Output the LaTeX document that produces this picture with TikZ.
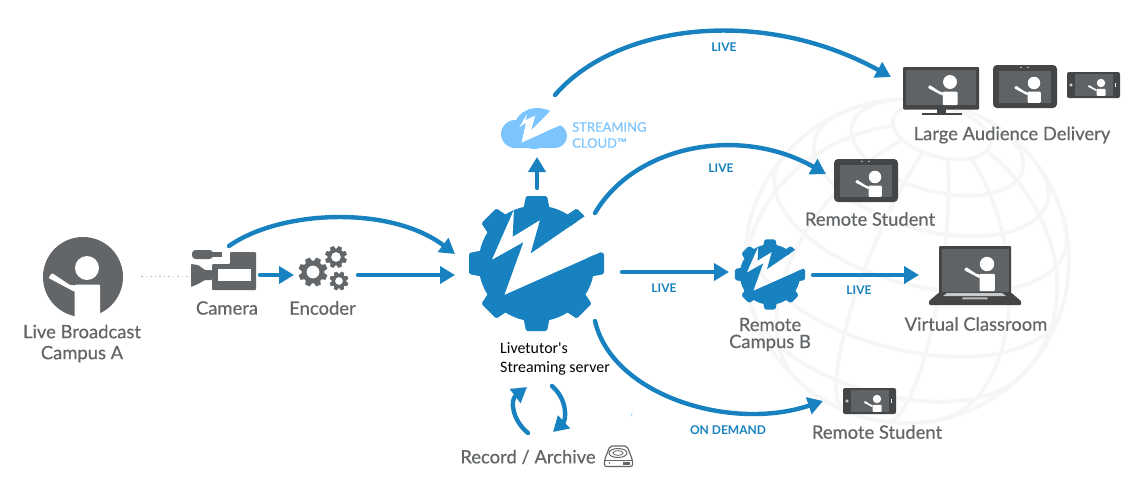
\documentclass[tikz,border=0pt]{standalone}
\usepackage{fontspec}
\setmainfont{Lato}
\newfontfamily\labf[FakeBold=0.45]{Lato}
\newfontfamily\carlitof{Carlito}
\usetikzlibrary{arrows.meta}
\definecolor{bl}{HTML}{1782BF}
\definecolor{lb}{HTML}{7CC5FF}
\definecolor{gr}{HTML}{636669}
\definecolor{dk}{HTML}{434547}
\definecolor{scr}{HTML}{5F6366}
\definecolor{glb}{HTML}{F6F6F6}
\tikzset{
 flow/.style={draw=bl,line width=4.4pt,line cap=round,-{Triangle[length=15pt,width=17pt]}},
 lab/.style={text=gr,font=\labf\fontsize{18.4}{21}\selectfont,align=center,inner sep=0pt},
 flowlab/.style={text=bl,font=\bfseries\fontsize{12}{14}\selectfont,inner sep=0pt},
 cloudlab/.style={text=lb,font=\labf\fontsize{13}{16}\selectfont,inner sep=0pt,anchor=west},
 srv/.style={text=black,font=\carlitof\fontsize{15.9}{18}\selectfont,inner sep=0pt,anchor=west},
 globeline/.style={draw=glb,line width=3.8pt},
 declare function={
  GX(\p,\l)=907+162*((cos(\p)*sin(\l))*0.966+(sin(\p)*0.866-cos(\p)*cos(\l)*0.5)*0.259);
  GY(\p,\l)=261-162*(-(cos(\p)*sin(\l))*0.259+(sin(\p)*0.866-cos(\p)*cos(\l)*0.5)*0.966);
 }
}
% gear logo: x y scale
\newcommand\logogear[3]{%
 \begin{scope}[shift={(#1,#2)},scale=#3]
  \begin{scope}[even odd rule]
  \clip (-80,-80) rectangle (80,80)
   (-22.5,-54.2)--(-44.8,-3.5)--(-13.2,-21.2)--(-32.2,31.5)--(68,-13)--(80,-48)--(48.5,-47.5)--(-5.8,-10.2)--(3.5,-43.5)--(-23.8,-26.8)--cycle;
  \begin{scope}[nonzero rule]
  \fill[bl] (0,0) circle (58);
  \foreach \a in {0,45,...,315}
   \fill[bl,rotate=\a,rounded corners=1.5pt] (50,-14)--(67.5,-10.5)--(67.5,10.5)--(50,14)--cycle;
  \end{scope}
  \end{scope}
 \end{scope}}
% cog: x y R hole
\newcommand\cogicon[4]{%
 \begin{scope}[shift={(#1,#2)},scale=#3]
  \fill[gr,even odd rule] (0,0) circle (0.78) (0,0) circle (#4);
  \foreach \a in {0,45,...,315}
   \fill[gr,rotate=\a+22.5] (0.7,-0.24)--(1,-0.17)--(1,0.17)--(0.7,0.24)--cycle;
 \end{scope}}
% person: head x y scale torso-length
\newcommand\persn[4]{%
 \begin{scope}[shift={(#1,#2)},scale=#3]
  \fill[white] (0,0) circle (12);
  \fill[white,rounded corners=1pt] (-12.5,#4)--(-12.5,16.5)--(13,16.5)--(13,#4)--cycle;
  \fill[white,rounded corners=1pt] (-38.5,10)--(-35,5)--(-17,17)--(-12,17)--(-12,24)--cycle;
 \end{scope}}
\newcommand\tabletdev[2]{%
 \begin{scope}[shift={(#1,#2)}]
  \fill[dk,rounded corners=4pt] (0,0) rectangle (64,43);
  \fill[scr] (6,6) rectangle (58,38);
  \fill[white] (28,2.4) circle (0.7) (35,2.4) circle (0.7);
  \persn{41}{18}{0.52}{38}
 \end{scope}}
\newcommand\phonedev[2]{%
 \begin{scope}[shift={(#1,#2)}]
  \fill[dk,rounded corners=2pt] (0,0) rectangle (53,26);
  \fill[scr] (8,2) rectangle (46,24);
  \draw[white,line width=0.5pt] (4,13) circle (1.3);
  \fill[white] (47.8,11) rectangle (49,15);
  \persn{34}{11}{0.35}{37}
 \end{scope}}
\begin{document}
\begin{tikzpicture}[x=1pt,y=-1pt]
\path[use as bounding box,fill=white] (0,0) rectangle (1140,485);
% globe
\draw[globeline] (907,261) circle (162);
\foreach \ph/\lm in {72/180,57/152,42/121,22/103,-3/88,-27/73}{
  \draw[globeline] plot[smooth,samples=50,domain=-\lm:\lm,variable=\t] ({GX(\ph,\t)},{GY(\ph,\t)});
}
\foreach \lam/\st in {-75/-24,-45/-51,-15/-59,15/-59,45/-51,75/-24}{
  \draw[globeline] plot[smooth,samples=30,domain=\st:72,variable=\t] ({GX(\t,\lam)},{GY(\t,\lam)});
}
% person at campus A
\fill[gr] (83,277) circle (40);
\persn{87}{268}{1}{50}
\draw[gr!45!white,line width=1.5pt,dash pattern=on 1.5pt off 3pt] (141,276.5)--(191,276.5);
% camera
\fill[gr,rounded corners=1pt] (212,264)--(230,264)--(230,252)--(256,252)--(256,290)--(212,290)--cycle;
\fill[white] (218,269) rectangle (251,281);
\fill[gr,rounded corners=0.8pt] (191,264)--(198,265)--(205,270)--(212,270)--(212,280)--(205,280)--(198,284)--(191,287)--cycle;
\fill[gr,rounded corners=3.5pt] (192,250) rectangle (213,259);
\fill[gr] (210,252) rectangle (222,256.5);
% encoder cogs
\cogicon{313}{272}{14.5}{0.45}
\cogicon{336}{257}{11}{0.45}
\cogicon{339}{281}{9.5}{0.42}
% server gears
\logogear{536.5}{263.5}{1}
\logogear{770}{274.5}{0.52}
% cloud
\begin{scope}[even odd rule]
 \clip (495,100) rectangle (575,155)
  (527.3,113.3)--(518.3,128.3)--(525.7,123.3)--(521,143.3)--(561,125)--(572,108)--(550,111)--(531.7,129.3)--(535.7,115)--(525.7,120)--cycle;
 \begin{scope}[nonzero rule]
 \fill[lb] (515,134) circle (14);
 \fill[lb] (534,129) circle (20);
 \fill[lb] (555,136) circle (12);
 \fill[lb] (515,132) rectangle (555,148);
 \fill[lb] (528,109.5) .. controls (536,107) and (545,108) .. (551,111.5) -- (532,132) -- cycle;
 \end{scope}
\end{scope}
% TV
\fill[dk] (922,113) rectangle (962,115);
\fill[dk] (937,108) rectangle (946,114);
\fill[dk,rounded corners=1pt] (903,67) rectangle (979,109.5);
\fill[scr] (906,70) rectangle (976,105);
\persn{950}{82}{0.58}{40}
% devices
\tabletdev{993}{65}
\phonedev{1067}{72}
\tabletdev{834}{159}
\phonedev{843}{388}
% laptop
\fill[dk,rounded corners=1pt] (939,246) rectangle (1011,294);
\fill[scr] (942,249) rectangle (1009,292);
\persn{987}{264}{0.6}{45}
\fill[dk,rounded corners=1pt] (939,292.5)--(1011,292.5)--(1021,301)--(1021,305)--(929,305)--(929,301)--cycle;
\fill[gr!35!white] (947,293)--(1002,293)--(1006,296)--(943,296)--cycle;
\fill[gr!45!white] (963,297.3)--(987,297.3)--(988,299.3)--(962,299.3)--cycle;
% disk
\draw[gr,line width=1.2pt,rounded corners=2pt] (604.5,460)--(610,446)--(627,446)--(632.5,460)--(632.5,466.5)--(604.5,466.5)--cycle;
\draw[gr,line width=1pt] (604.5,460)--(632.5,460);
\draw[gr,line width=1pt] (618,453) ellipse (9 and 4.5);
\draw[gr,line width=0.8pt] (618,453) ellipse (5 and 2.4);
\fill[gr] (623,462) rectangle (630,465);
\fill[gr] (609.5,463) circle (0.9);
\fill[lb] (631,413.5)--(632.5,413.5)--(631.7,416)--cycle;
% labels
\node[lab] (campusA) at (82,343.5) {Live Broadcast\\Campus A};
\node[lab] (camLabel) at (227,308) {Camera};
\node[lab] (encLabel) at (322.5,308) {Encoder};
\node[lab,font=\labf\fontsize{18.4}{17}\selectfont] (campusB) at (770,334.5) {Remote\\Campus B};
\node[lab] (largeLabel) at (1012,135) {Large Audience Delivery};
\node[lab] (studentA) at (870,219) {Remote Student};
\node[lab] (classLabel) at (976,324) {Virtual Classroom};
\node[lab] (studentB) at (877,432) {Remote Student};
\node[lab] (archLabel) at (528,457) {Record / Archive};
\node[srv] (srvA) at (500,348) {Livetutor's};
\node[srv] (srvB) at (500,368) {Streaming server};
\node[cloudlab] (cloudA) at (572,127) {STREAMING};
\node[cloudlab] (cloudB) at (572,143) {CLOUD™};
\node[flowlab] (liveA) at (724,47) {LIVE};
\node[flowlab] (liveB) at (721,168) {LIVE};
\node[flowlab] (liveC) at (664,288.5) {LIVE};
\node[flowlab] (liveD) at (859,290.5) {LIVE};
\node[flowlab] (onDemand) at (728,430.5) {ON DEMAND};
% connector ends
\coordinate (camOut) at (229,246);
\coordinate (camRight) at (260,275);
\coordinate (encIn) at (294,275);
\coordinate (encOut) at (358,275);
\coordinate (srvInA) at (455,254);
\coordinate (srvInB) at (455,275);
\coordinate (srvUp) at (537,188);
\coordinate (cloudIn) at (537,157);
\coordinate (cloudOut) at (555,95);
\coordinate (largeIn) at (891,77);
\coordinate (srvNE) at (595,213);
\coordinate (stuAIn) at (826,174);
\coordinate (srvE) at (622,272);
\coordinate (campIn) at (729,272);
\coordinate (campOut) at (813,275);
\coordinate (classIn) at (919,275);
\coordinate (srvSE) at (595,321);
\coordinate (stuBIn) at (823,401);
\coordinate (arcAs) at (528,433);
\coordinate (arcAe) at (527,387);
\coordinate (arcBs) at (552,386);
\coordinate (arcBe) at (553,432);
% connectors
\draw[flow] (camOut) .. controls (280,210) and (390,205) .. (srvInA);
\draw[flow] (camRight) -- (encIn);
\draw[flow] (encOut) -- (srvInB);
\draw[flow] (srvUp) -- (cloudIn);
\draw[flow] (cloudOut) .. controls (615,25) and (760,5) .. (largeIn);
\draw[flow] (srvNE) .. controls (635,145) and (740,125) .. (stuAIn);
\draw[flow] (srvE) -- (campIn);
\draw[flow] (campOut) -- (classIn);
\draw[flow] (srvSE) .. controls (612,395) and (730,432) .. (stuBIn);
\draw[flow] (arcAs) .. controls (512,420) and (510,400) .. (arcAe);
\draw[flow] (arcBs) .. controls (568,400) and (566,420) .. (arcBe);
\end{tikzpicture}
\end{document}
